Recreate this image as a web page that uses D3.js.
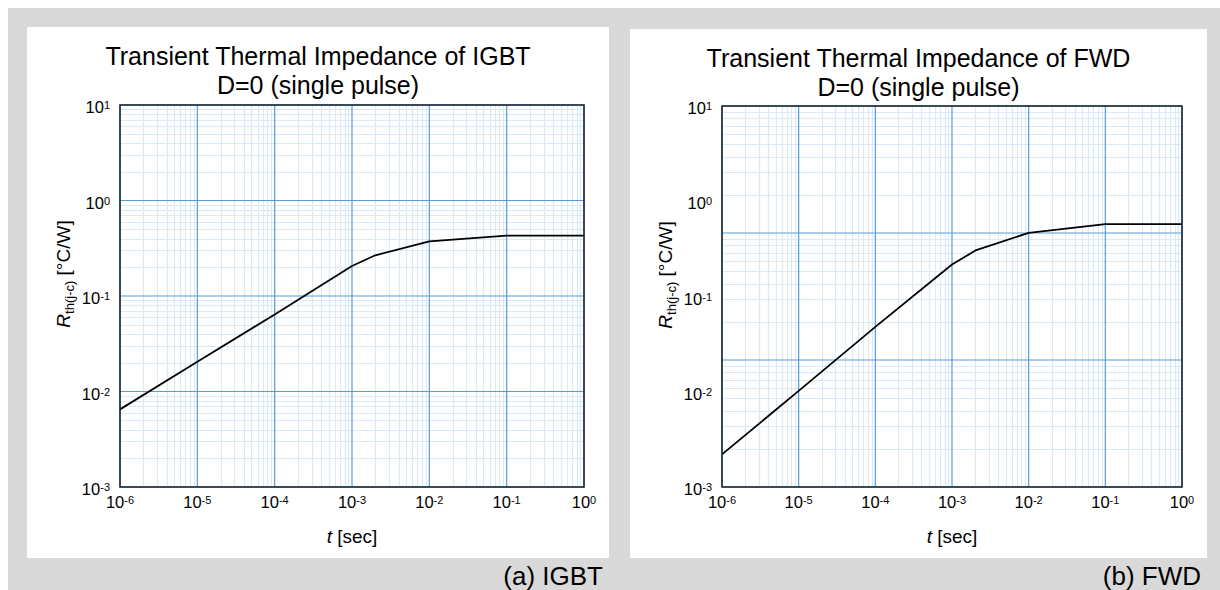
<!DOCTYPE html>
<html>
<head>
<meta charset="utf-8">
<script src="https://cdn.jsdelivr.net/npm/d3@7"></script>
<style>
  body { margin: 0; background: #fff; }
  svg { display: block; font-family: "Liberation Sans", Arial, sans-serif; }
</style>
</head>
<body>
<div id="chart"></div>
<script>
// ===== data =====
const timeTicks = [1e-6, 1e-5, 1e-4, 1e-3, 1e-2, 1e-1, 1];
const rthTicks = [1e-3, 1e-2, 1e-1, 1, 10];

const igbtTime = [1e-6, 1e-5, 1e-4, 1e-3, 2.0e-3, 1e-2, 1e-1, 1];
const igbtRth = [0.0065, 0.0205, 0.064, 0.206, 0.267, 0.374, 0.428, 0.428];

const fwdTime = [1e-6, 1e-5, 1e-4, 1e-3, 2.07e-3, 1e-2, 1e-1, 1];
const fwdRth = [0.0022, 0.0102, 0.048, 0.217, 0.307, 0.466, 0.575, 0.575];

// the FWD sheet has its grid pasted for only 3 decades
const igbtGridRange = [1e-3, 10];
const fwdGridRange = [1e-2, 10];

const W = 1220, H = 590;
const colors = { bg: '#d9d9d9', major: '#5b9bd5', minor: '#dbe8f5', frame: '#1f2a36' };

const svg = d3.select('#chart').append('svg').attr('width', W).attr('height', H);

svg.append('rect')
  .attr('x', 8).attr('y', 8).attr('width', W - 8).attr('height', H - 8)
  .attr('fill', colors.bg);

const panels = [
  {
    title: 'Transient Thermal Impedance of IGBT',
    caption: '(a) IGBT',
    time: igbtTime, rth: igbtRth, gridRange: igbtGridRange,
    box: { x: 27, y: 27, w: 582, h: 531 },
    plot: { x: 120, y: 105, w: 464, h: 382 },
    captionX: 603
  },
  {
    title: 'Transient Thermal Impedance of FWD',
    caption: '(b) FWD',
    time: fwdTime, rth: fwdRth, gridRange: fwdGridRange,
    box: { x: 630, y: 29, w: 577, h: 529 },
    plot: { x: 722, y: 106, w: 460, h: 381 },
    captionX: 1201
  }
];

// "10" with the exponent raised
const addPower = (sel, v, supSize, dy) => {
  const e = Math.round(Math.log10(v));
  sel.append('tspan').text('10');
  sel.append('tspan').attr('font-size', supSize).attr('dy', dy).text(e);
};

panels.forEach((p) => {
  svg.append('rect')
    .attr('x', p.box.x).attr('y', p.box.y).attr('width', p.box.w).attr('height', p.box.h)
    .attr('fill', '#fff');

  const x = d3.scaleLog().domain([timeTicks[0], timeTicks[timeTicks.length - 1]])
    .range([p.plot.x, p.plot.x + p.plot.w]);
  const y = d3.scaleLog().domain([rthTicks[0], rthTicks[rthTicks.length - 1]])
    .range([p.plot.y + p.plot.h, p.plot.y]);
  const yGrid = d3.scaleLog().domain(p.gridRange).range([p.plot.y + p.plot.h, p.plot.y]);

  const g = svg.append('g');
  const isMajor = (v) => Math.abs(Math.log10(v) - Math.round(Math.log10(v))) < 1e-6;

  // minor grid
  const xt = x.ticks();
  const yt = yGrid.ticks();
  g.selectAll('.vminor').data(xt.filter((v) => !isMajor(v))).enter().append('line')
    .attr('x1', (d) => Math.round(x(d)) + 0.5).attr('x2', (d) => Math.round(x(d)) + 0.5)
    .attr('y1', p.plot.y).attr('y2', p.plot.y + p.plot.h)
    .attr('stroke', colors.minor).attr('stroke-width', 1.2);
  g.selectAll('.hminor').data(yt.filter((v) => !isMajor(v))).enter().append('line')
    .attr('y1', (d) => Math.round(yGrid(d)) + 0.5).attr('y2', (d) => Math.round(yGrid(d)) + 0.5)
    .attr('x1', p.plot.x).attr('x2', p.plot.x + p.plot.w)
    .attr('stroke', colors.minor).attr('stroke-width', 1.2);

  // major grid
  g.selectAll('.vmajor').data(xt.filter(isMajor)).enter().append('line')
    .attr('x1', (d) => x(d)).attr('x2', (d) => x(d))
    .attr('y1', p.plot.y).attr('y2', p.plot.y + p.plot.h)
    .attr('stroke', colors.major).attr('stroke-width', 1.2);
  g.selectAll('.hmajor').data(yt.filter(isMajor)).enter().append('line')
    .attr('y1', (d) => yGrid(d)).attr('y2', (d) => yGrid(d))
    .attr('x1', p.plot.x).attr('x2', p.plot.x + p.plot.w)
    .attr('stroke', colors.major).attr('stroke-width', 1.2);

  // curve
  const line = d3.line().x((d) => x(d[0])).y((d) => y(d[1]));
  g.append('path')
    .datum(d3.zip(p.time, p.rth))
    .attr('d', line)
    .attr('fill', 'none').attr('stroke', '#000').attr('stroke-width', 1.8)
    .attr('stroke-linejoin', 'round');

  // frame
  g.append('rect')
    .attr('x', p.plot.x).attr('y', p.plot.y).attr('width', p.plot.w).attr('height', p.plot.h)
    .attr('fill', 'none').attr('stroke', colors.frame).attr('stroke-width', 1.6);

  // tick labels
  timeTicks.forEach((v) => {
    const t = g.append('text')
      .attr('x', x(v)).attr('y', p.plot.y + p.plot.h + 21)
      .attr('text-anchor', 'middle').attr('font-size', 16.5).attr('fill', '#000');
    addPower(t, v, 11, -4);
  });
  rthTicks.forEach((v) => {
    const t = g.append('text')
      .attr('x', p.plot.x - 10).attr('y', y(v) + 8)
      .attr('text-anchor', 'end').attr('font-size', 16.5).attr('fill', '#000');
    addPower(t, v, 11, -4);
  });

  // axis titles
  const xl = g.append('text')
    .attr('x', p.plot.x + p.plot.w / 2).attr('y', p.plot.y + p.plot.h + 56)
    .attr('text-anchor', 'middle').attr('font-size', 19);
  xl.append('tspan').attr('font-style', 'italic').text('t');
  xl.append('tspan').text(' [sec]');

  const yl = g.append('text')
    .attr('transform', `translate(${p.plot.x - 50}, ${p.plot.y + 169}) rotate(-90)`)
    .attr('text-anchor', 'middle').attr('font-size', 19);
  yl.append('tspan').attr('font-style', 'italic').text('R');
  yl.append('tspan').attr('font-size', 13).attr('dy', 4).text('th(j-c)');
  yl.append('tspan').attr('dy', -4).text(' [°C/W]');

  // title
  const cx = p.box.x + p.box.w / 2;
  g.append('text').attr('x', cx).attr('y', p.box.y + 38)
    .attr('text-anchor', 'middle').attr('font-size', 25).text(p.title);
  g.append('text').attr('x', cx).attr('y', p.box.y + 67)
    .attr('text-anchor', 'middle').attr('font-size', 25).text('D=0 (single pulse)');

  // caption under the panel
  svg.append('text').attr('x', p.captionX).attr('y', 585)
    .attr('text-anchor', 'end').attr('font-size', 26).text(p.caption);
});
</script>
</body>
</html>
